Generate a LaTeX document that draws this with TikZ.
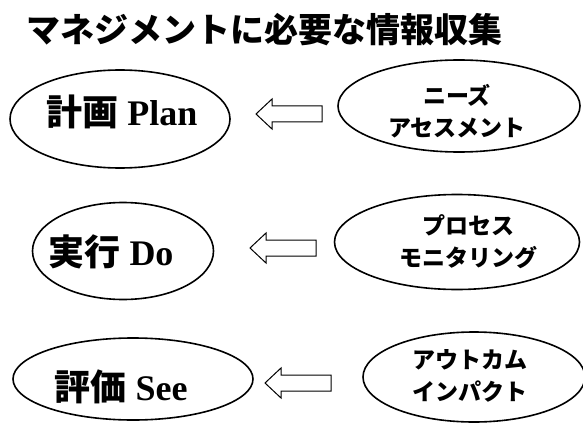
\documentclass[tikz,border=0pt]{standalone}
\usepackage{fontspec}
\setmainfont{Liberation Serif}
\newfontfamily\jp{Noto Sans CJK JP}
\usetikzlibrary{shapes.geometric}
\tikzset{
  oval/.style={draw=black, line width=1.6pt, ellipse, inner sep=0pt},
  blockarr/.style={draw=black, line width=1pt, fill=white, line join=miter},
  lefttext/.style={font=\fontsize{36}{38}\selectfont\bfseries, inner sep=0pt},
  righttext/.style={font=\jp\fontsize{23}{32}\selectfont\bfseries, align=center, inner sep=0pt}
}
\newcommand{\hollowarrow}[1]{%
  \draw[blockarr] (#1) -- ++(16,-15) -- ++(0,7) -- ++(50,0) -- ++(0,16) -- ++(-50,0) -- ++(0,7) -- cycle;}
\begin{document}
\begin{tikzpicture}[x=1pt,y=-1pt]
\useasboundingbox (0,0) rectangle (583,425);
\node[anchor=west, font=\jp\fontsize{34}{36}\selectfont\bfseries, inner sep=0pt] (title) at (26,30) {マネジメントに必要な情報収集};
% row 1
\node[oval, minimum width=220pt, minimum height=98pt] (plan) at (120,119) {};
\node[lefttext] (plant) at (122,112) {{\jp 計画} Plan};
\node[oval, minimum width=242pt, minimum height=92pt] (needs) at (459,106) {};
\node[righttext] (needst) at (457,111) {ニーズ\\アセスメント};
\coordinate (a1) at (256,114);
\hollowarrow{a1}
% row 2
\node[oval, minimum width=181pt, minimum height=97pt] (do) at (123,251) {};
\node[lefttext] (dot) at (111,252) {{\jp 実行} Do};
\node[oval, minimum width=245pt, minimum height=95pt] (proc) at (457,242) {};
\node[righttext] (proct) at (468,242) {プロセス\\モニタリング};
\coordinate (a2) at (250,248);
\hollowarrow{a2}
% row 3
\node[oval, minimum width=240pt, minimum height=82pt] (see) at (133,379) {};
\node[lefttext] (seet) at (121,387) {{\jp 評価} See};
\node[oval, minimum width=222pt, minimum height=90pt] (out) at (474,377) {};
\node[righttext] (outt) at (470,376) {アウトカム\\インパクト};
\coordinate (a3) at (265,383);
\hollowarrow{a3}
\end{tikzpicture}
\end{document}
